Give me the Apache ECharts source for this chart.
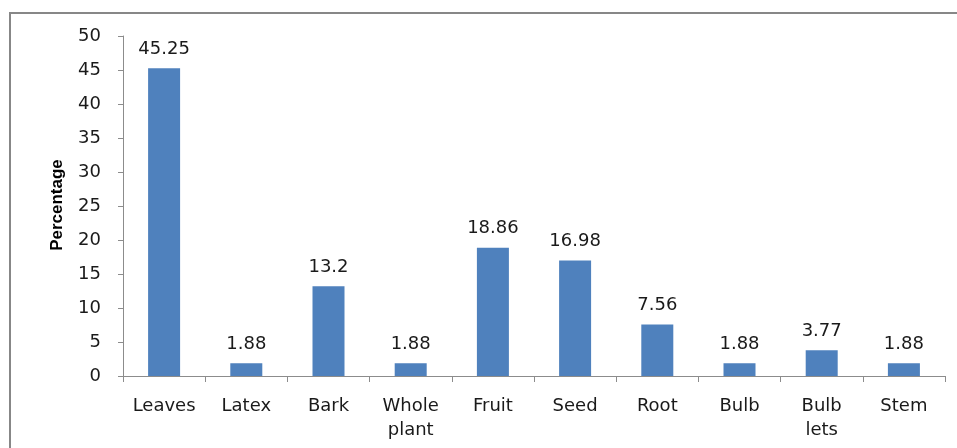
<!DOCTYPE html>
<html>
<head>
<meta charset="utf-8">
<script src="https://cdn.jsdelivr.net/npm/echarts@6/dist/echarts.min.js"></script>
<style>
html,body{margin:0;padding:0;background:#fff;}
#chart{width:957px;height:448px;}
</style>
</head>
<body>
<div id="chart"></div>
<script>
const categories = ["Leaves", "Latex", "Bark", "Whole\nplant", "Fruit", "Seed", "Root", "Bulb", "Bulb\nlets", "Stem"];
const percentages = [45.25, 1.88, 13.2, 1.88, 18.86, 16.98, 7.56, 1.88, 3.77, 1.88];
const yTicks = { min: 0, max: 50, interval: 5 };
const yAxisTitle = "Percentage";

const chart = echarts.init(document.getElementById('chart'), null, { renderer: 'canvas' });
const font = 'DejaVu Sans';
chart.setOption({
  animation: false,
  backgroundColor: '#ffffff',
  graphic: [{
    type: 'rect',
    shape: { x: 10, y: 13, width: 980, height: 480 },
    style: { fill: 'none', stroke: '#878787', lineWidth: 2 },
    silent: true
  }, {
    type: 'text',
    rotation: Math.PI / 2,
    x: 57, y: 205,
    silent: true,
    style: {
      text: yAxisTitle,
      font: 'bold 17px "Liberation Sans"',
      fill: '#000',
      align: 'center',
      verticalAlign: 'middle'
    }
  }],
  grid: { left: 123, right: 12, top: 36, bottom: 72, containLabel: false },
  xAxis: {
    type: 'category',
    data: categories,
    axisLine: { lineStyle: { color: '#8c8c8c', width: 1 } },
    axisTick: { show: true, length: 6, alignWithLabel: false, lineStyle: { color: '#8c8c8c' } },
    axisLabel: { color: '#1a1a1a', fontFamily: font, fontSize: 18, margin: 18, lineHeight: 24, interval: 0 }
  },
  yAxis: {
    type: 'value',
    min: yTicks.min, max: yTicks.max, interval: yTicks.interval,
    splitLine: { show: false },
    axisLine: { show: true, lineStyle: { color: '#8c8c8c', width: 1 } },
    axisTick: { show: true, length: 5, lineStyle: { color: '#8c8c8c' } },
    axisLabel: { color: '#1a1a1a', fontFamily: font, fontSize: 18, margin: 22 }
  },
  series: [{
    type: 'bar',
    data: percentages,
    barWidth: 32,
    itemStyle: { color: '#4f81bd' },
    label: {
      show: true, position: 'top', distance: 10,
      color: '#1a1a1a', fontFamily: font, fontSize: 18
    }
  }]
});
</script>
</body>
</html>
